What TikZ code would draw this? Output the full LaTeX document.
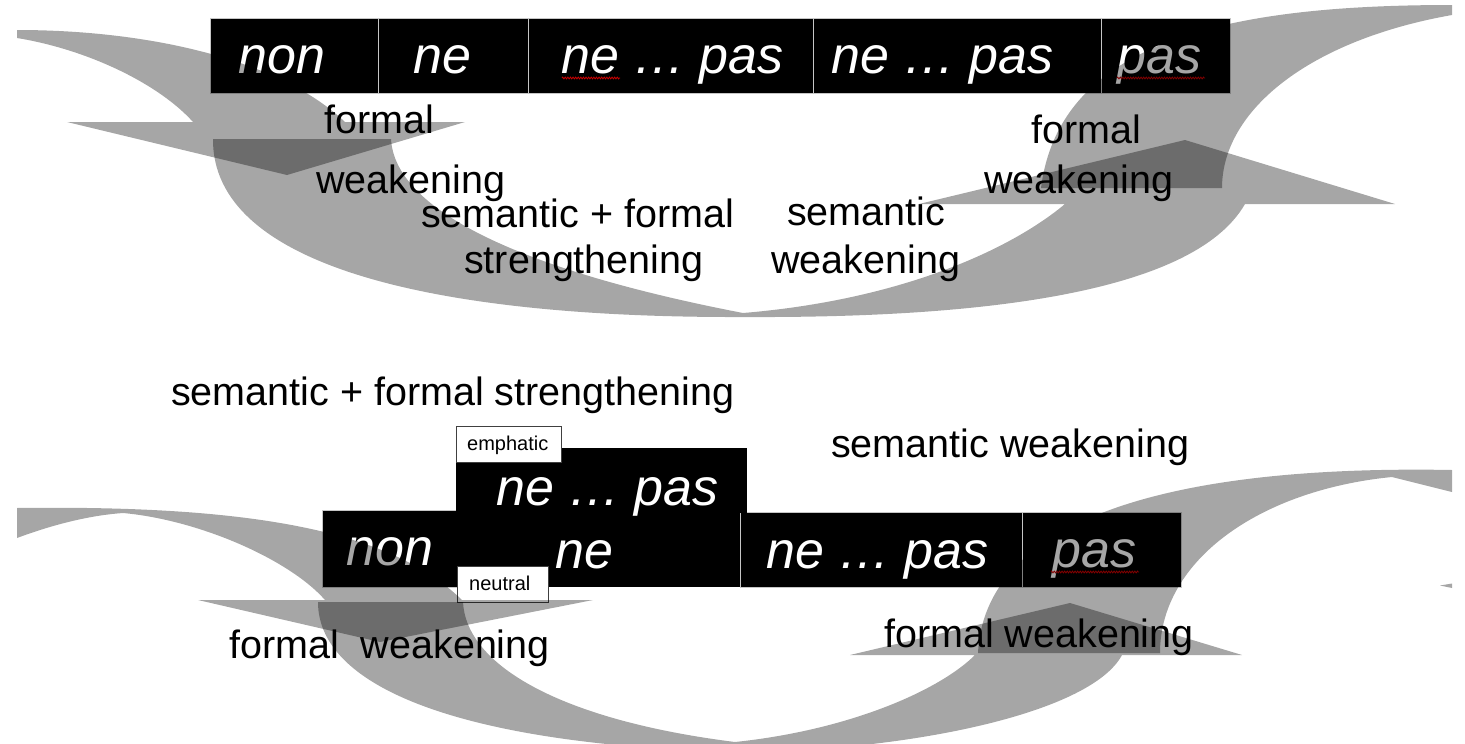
\documentclass[tikz,border=0pt]{standalone}
\usepackage{fontspec}
\setmainfont{Liberation Sans}
\usetikzlibrary{decorations.pathmorphing}
\begin{document}
\begin{tikzpicture}[x=1pt,y=-1pt,
  blk/.style={fill=black, draw=gray!45, line width=1pt},
  blkn/.style={fill=black},
  bartxt/.style={text=white, font=\fontsize{52}{60}\selectfont\itshape, anchor=base west, inner sep=0pt},
  lbl/.style={font=\fontsize{39.5}{46}\selectfont, anchor=base west, inner sep=0pt},
  tagbox/.style={fill=white, draw=black!75, line width=1pt},
  tagtxt/.style={font=\fontsize{20}{24}\selectfont, anchor=base west, inner sep=0pt},
  arr/.style={fill=black, fill opacity=0.35},
  squig/.style={draw=red!80!black, line width=0.8pt, decorate, decoration={zigzag, amplitude=0.9pt, segment length=2.6pt}}]
\useasboundingbox (0,0) rectangle (1465,744);
\fill[white] (0,0) rectangle (1465,744);
\clip (0,0) rectangle (1465,744);

% ---------- top bar ----------
\draw[blk] (210,18) rectangle (378,93);
\draw[blk] (378,18) rectangle (528,93);
\draw[blk] (528,18) rectangle (813,93);
\draw[blk] (813,18) rectangle (1101,93);
\draw[blk] (1101,18) rectangle (1230,93);
\node[bartxt] (tnon) at (238,73) {non};
\node[bartxt] (tne) at (413,73) {ne};
\node[bartxt] (tnepas) at (561,73) {ne … pas};
\node[bartxt] (tnepasb) at (831,73) {ne … pas};
\node[bartxt] (tpas) at (1117,73) {pas};
\coordinate (sqa1) at (562,78); \coordinate (sqa2) at (620,78);
\coordinate (sqb1) at (1117,78); \coordinate (sqb2) at (1205,78);
\draw[squig] (sqa1) -- (sqa2);
\draw[squig] (sqb1) -- (sqb2);

% ---------- bottom bar ----------
\draw[blk] (322,510) rectangle (456,587);
\draw[blk] (740,512) rectangle (1022,587);
\draw[blk] (1022,512) rectangle (1181,587);
\fill[blkn] (456,512) rectangle (740,587);
\fill[blkn] (456,448) rectangle (747,512.5);
\node[bartxt] (bnon) at (346,565) {non};
\node[bartxt] (bnepasu) at (496,505) {ne … pas};
\node[bartxt] (bne) at (555,568) {ne};
\node[bartxt] (bnepas) at (766,568) {ne … pas};
\node[bartxt] (bpas) at (1052,567) {pas};
\coordinate (sqc1) at (1051,572); \coordinate (sqc2) at (1139,572);
\draw[squig] (sqc1) -- (sqc2);

% tags
\draw[tagbox] (456,426) rectangle (561,462);
\node[tagtxt] (emph) at (467,450) {emphatic};
\draw[tagbox] (457,566) rectangle (548,602);
\node[tagtxt] (neut) at (469,590) {neutral};

% ---------- top arrows ----------
% left end of the upper arc, with its arrowhead pointing down
\fill[arr] (17,30) .. controls (150,30) and (280,60) .. (345,122)
  -- (465,122) -- (287,175) -- (67,122) -- (193,122)
  .. controls (160,85) and (90,50) .. (17,38) -- cycle;
% lower arc, with its arrowhead pointing up
\fill[arr] (213,139) -- (391,139)
  .. controls (395,210) and (520,270) .. (743,313)
  .. controls (900,300) and (1010,250) .. (1065,204)
  -- (919,204) -- (1185,140) -- (1395,204) -- (1245,204)
  .. controls (1190,300) and (950,318) .. (743,317)
  .. controls (430,318) and (212,265) .. (213,139) -- cycle;
% right end of the upper arc
\fill[arr] (1041,188) -- (1222,188)
  .. controls (1222,110) and (1310,40) .. (1452,15)
  -- (1452,5)
  .. controls (1230,5) and (1060,40) .. (1041,188) -- cycle;

% ---------- bottom arrows ----------
\fill[arr] (17,508) .. controls (250,505) and (390,530) .. (462,600)
  -- (593,600) -- (380,642) -- (198,600) -- (325,600)
  .. controls (290,560) and (200,520) .. (123,513)
  .. controls (95,515) and (60,522) .. (17,538) -- cycle;
\fill[arr] (318,602) -- (463,602)
  .. controls (466,665) and (560,720) .. (735,742)
  .. controls (850,730) and (940,690) .. (975,655)
  -- (850,655) -- (1070,603) -- (1242,655) -- (1122,655)
  .. controls (1090,715) and (900,752) .. (735,752)
  .. controls (470,745) and (318,690) .. (318,602) -- cycle;
\fill[arr] (978,653) -- (1160,653)
  .. controls (1160,560) and (1260,490) .. (1392,477)
  -- (1452,492) -- (1452,470)
  .. controls (1180,465) and (985,515) .. (978,653) -- cycle;
\fill[arr] (1440,585.5) -- (1452,583.5) -- (1452,588) -- cycle;

% ---------- labels ----------
\node[lbl] (l1) at (324,133) {formal};
\node[lbl] (l2) at (316,193) {weakening};
\node[lbl] (l3) at (421,227) {semantic + formal};
\node[lbl] (l4) at (464,273) {strengthening};
\node[lbl] (l5) at (787,225) {semantic};
\node[lbl] (l6) at (771,273) {weakening};
\node[lbl] (l7) at (1031,143) {formal};
\node[lbl] (l8) at (984,193) {weakening};

\node[lbl] (m1) at (171,405) {semantic + formal strengthening};
\node[lbl] (m2) at (831,457) {semantic weakening};
\node[lbl] (m3) at (229,658) {formal\ \ weakening};
\node[lbl] (m4) at (884,647) {formal weakening};
\end{tikzpicture}
\end{document}
